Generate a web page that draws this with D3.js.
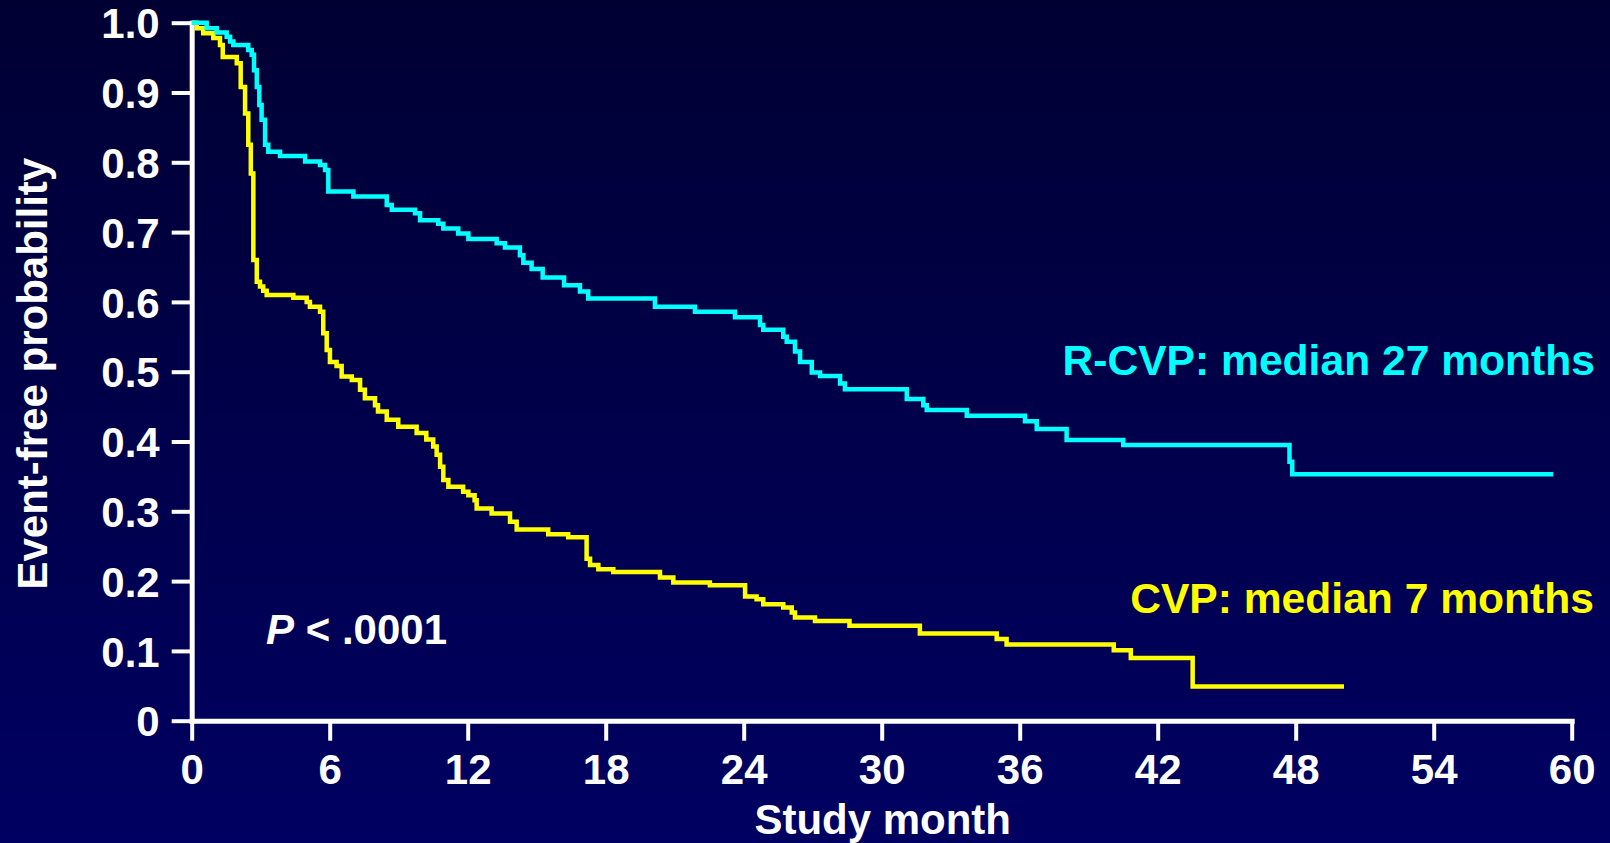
<!DOCTYPE html>
<html>
<head>
<meta charset="utf-8">
<script src="https://cdn.jsdelivr.net/npm/d3@7"></script>
<style>
  html, body { margin: 0; padding: 0; background: #000040; }
  svg { display: block; }
  text { font-family: "Liberation Sans", Arial, sans-serif; font-weight: bold; }
</style>
</head>
<body>
<div id="chart"></div>
<script>
// tick values
var xTicks = [0, 6, 12, 18, 24, 30, 36, 42, 48, 54, 60];
var yTicks = [0, 0.1, 0.2, 0.3, 0.4, 0.5, 0.6, 0.7, 0.8, 0.9, 1.0];

// R-CVP arm: month of each drop and event-free probability after it
var rcvpMonths = [0, 0.65, 1.09, 1.52, 1.67, 1.81, 2.46, 2.61, 2.71, 2.83, 2.94, 3.04, 3.19, 3.33, 3.84,
  4.93, 5.58, 5.80, 5.94, 7.03, 8.48, 8.70, 9.71, 9.93, 10.72, 10.94, 11.59, 12.03, 13.26, 13.62,
  14.27, 14.42, 14.78, 15.26, 16.19, 16.88, 17.24, 20.14, 21.88, 23.62, 24.71, 24.85, 25.72, 25.87,
  26.23, 26.45, 26.96, 27.32, 28.19, 28.40, 31.09, 31.81, 31.96, 33.70, 36.23, 36.74, 38.04, 40.50,
  47.73, 47.85];
var rcvpSurvival = [1.0, 0.992, 0.986, 0.980, 0.973, 0.968, 0.961, 0.954, 0.932, 0.908, 0.882, 0.861, 0.825, 0.815, 0.809,
  0.801, 0.796, 0.789, 0.758, 0.751, 0.739, 0.732, 0.727, 0.717, 0.712, 0.705, 0.698, 0.690, 0.684, 0.678,
  0.667, 0.656, 0.647, 0.635, 0.624, 0.615, 0.605, 0.593, 0.586, 0.578, 0.567, 0.560, 0.550, 0.543,
  0.529, 0.514, 0.499, 0.494, 0.483, 0.475, 0.461, 0.452, 0.445, 0.437, 0.429, 0.418, 0.402, 0.395,
  0.371, 0.353];
var rcvpLastMonth = 59.2;

// CVP arm
var cvpMonths = [0, 0.22, 0.50, 0.94, 1.23, 1.35, 1.96, 2.13, 2.32, 2.46, 2.57, 2.68, 2.83, 2.97, 3.11,
  3.26, 4.42, 5.00, 5.14, 5.58, 5.72, 5.87, 6.01, 6.30, 6.52, 6.96, 7.32, 7.53, 7.97, 8.10, 8.48,
  8.98, 9.78, 10.20, 10.50, 10.65, 10.80, 10.94, 11.16, 11.80, 12.03, 12.30, 12.39, 13.04, 13.84,
  14.13, 15.50, 16.37, 17.17, 17.32, 17.68, 18.33, 20.36, 20.94, 22.53, 24.06, 24.56, 24.85, 25.72,
  26.09, 26.23, 27.10, 28.60, 31.66, 35.00, 35.43, 40.09, 40.83, 43.52];
var cvpSurvival = [1.0, 0.992, 0.985, 0.978, 0.968, 0.951, 0.942, 0.908, 0.870, 0.825, 0.784, 0.660, 0.629, 0.622, 0.616,
  0.610, 0.606, 0.600, 0.593, 0.586, 0.555, 0.531, 0.514, 0.508, 0.493, 0.488, 0.474, 0.462, 0.452, 0.443, 0.431,
  0.421, 0.412, 0.403, 0.393, 0.381, 0.364, 0.345, 0.335, 0.328, 0.323, 0.316, 0.304, 0.297, 0.285,
  0.274, 0.267, 0.263, 0.232, 0.223, 0.217, 0.213, 0.205, 0.198, 0.194, 0.178, 0.174, 0.167, 0.162,
  0.155, 0.148, 0.143, 0.136, 0.125, 0.117, 0.109, 0.101, 0.090, 0.049];
var cvpLastMonth = 50.1;

var W = 1610, H = 843;

var svg = d3.select("#chart").append("svg")
    .attr("width", W)
    .attr("height", H);

var grad = svg.append("defs").append("linearGradient")
    .attr("id", "bg")
    .attr("x1", 0).attr("y1", 0).attr("x2", 0).attr("y2", 1);
grad.append("stop").attr("offset", "0%").attr("stop-color", "#000033");
grad.append("stop").attr("offset", "100%").attr("stop-color", "#000062");

svg.append("rect")
    .attr("width", W)
    .attr("height", H)
    .attr("fill", "url(#bg)");

var x = d3.scaleLinear().domain([0, 60]).range([191.7, 1571.7]);
var y = d3.scaleLinear().domain([0, 1]).range([720.7, 22.7]);

// axes
var yAxis = svg.append("g")
    .attr("transform", "translate(" + x(0) + ",0)")
    .call(d3.axisLeft(y)
        .tickValues(yTicks)
        .tickSize(20)
        .tickSizeOuter(0)
        .tickPadding(12)
        .tickFormat(function (d) { return d === 0 ? "0" : d3.format(".1f")(d); }));

var xAxis = svg.append("g")
    .attr("transform", "translate(0," + y(0) + ")")
    .call(d3.axisBottom(x)
        .tickValues(xTicks)
        .tickSize(20)
        .tickSizeOuter(0)
        .tickPadding(13)
        .tickFormat(d3.format("d")));

[xAxis, yAxis].forEach(function (g) {
    g.select(".domain")
        .attr("stroke", "#ffffff")
        .attr("stroke-width", 5)
        .attr("stroke-linecap", "square");
    g.selectAll(".tick line")
        .attr("stroke", "#ffffff")
        .attr("stroke-width", 4);
    g.selectAll(".tick text")
        .attr("fill", "#ffffff")
        .style("font-size", "42px")
        .style("font-family", "'Liberation Sans', Arial, sans-serif")
        .style("font-weight", "bold");
});
yAxis.selectAll(".tick text").attr("dy", "0.36em");

// survival curves
var stepLine = d3.line()
    .x(function (d) { return x(d[0]); })
    .y(function (d) { return y(d[1]); })
    .curve(d3.curveStepAfter);

function curvePoints(months, surv, last) {
    var pts = months.map(function (m, i) { return [m, surv[i]]; });
    pts.push([last, surv[surv.length - 1]]);
    return pts;
}

svg.append("path")
    .datum(curvePoints(cvpMonths, cvpSurvival, cvpLastMonth))
    .attr("d", stepLine)
    .attr("fill", "none")
    .attr("stroke", "#ffff00")
    .attr("stroke-width", 4.5);

svg.append("path")
    .datum(curvePoints(rcvpMonths, rcvpSurvival, rcvpLastMonth))
    .attr("d", stepLine)
    .attr("fill", "none")
    .attr("stroke", "#00ffff")
    .attr("stroke-width", 4.5);

// titles and labels
svg.append("text")
    .attr("transform", "translate(46.7," + ((y(0) + y(1)) / 2 + 2) + ") rotate(-90)")
    .attr("text-anchor", "middle")
    .attr("fill", "#ffffff")
    .style("font-size", "42px")
    .text("Event-free probability");

svg.append("text")
    .attr("x", (x(0) + x(60)) / 2 + 1)
    .attr("y", 834)
    .attr("text-anchor", "middle")
    .attr("fill", "#ffffff")
    .style("font-size", "42px")
    .text("Study month");

svg.append("text")
    .attr("x", 1595)
    .attr("y", 375)
    .attr("text-anchor", "end")
    .attr("fill", "#00ffff")
    .style("font-size", "42.6px")
    .text("R-CVP: median 27 months");

svg.append("text")
    .attr("x", 1594)
    .attr("y", 613)
    .attr("text-anchor", "end")
    .attr("fill", "#ffff00")
    .style("font-size", "42.6px")
    .text("CVP: median 7 months");

var pText = svg.append("text")
    .attr("x", 266)
    .attr("y", 644)
    .attr("fill", "#ffffff")
    .style("font-size", "42px");
pText.append("tspan").style("font-style", "italic").text("P");
pText.append("tspan").text(" < .0001");
</script>
</body>
</html>
